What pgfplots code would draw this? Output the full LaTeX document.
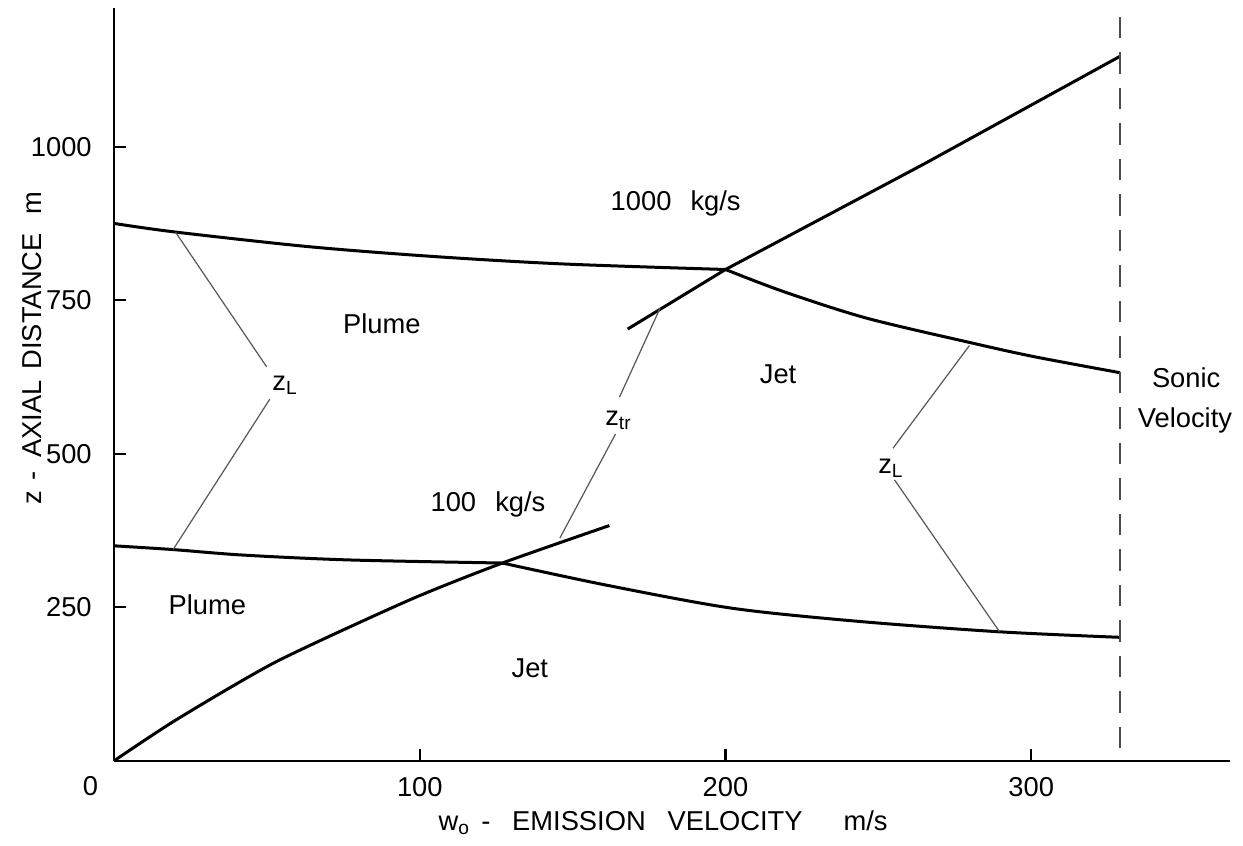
\documentclass[border=0pt]{standalone}
\usepackage{fontspec}
\setmainfont{Liberation Sans}
\usepackage{pgfplots}
\pgfplotsset{compat=1.18}
\begin{document}
\begin{tikzpicture}
\begin{axis}[
  at={(0,0)}, anchor=south west,
  scale only axis,
  width=408.6pt, height=275.7pt,
  xmin=0, xmax=365, ymin=0, ymax=1226,
  axis lines*=left,
  axis line style={line width=0.9pt},
  tick align=inside,
  major tick length=4.2pt,
  tick style={line width=0.8pt, black},
  xtick={100,200,300},
  ytick={250,500,750,1000},
  /pgf/number format/assume math mode=true,
  /pgf/number format/1000 sep={},
  ticklabel style={font=\fontsize{10}{12}\selectfont},
  xticklabel style={yshift=-2.5pt},
  yticklabel style={xshift=-4.7pt},
  xlabel={w\textsubscript{o}\hspace{4pt}-\hspace{8pt}EMISSION\hspace{8pt}VELOCITY\hspace{15pt}m/s},
  xlabel style={at={(axis description cs:0.492,-0.0823)}, anchor=center, font=\fontsize{10}{12}\selectfont},
  ylabel={z\hspace{4pt}-\hspace{5pt}AXIAL\hspace{4pt}DISTANCE\hspace{7pt}m},
  ylabel style={at={(axis description cs:-0.0734,0.548)}, anchor=center, font=\fontsize{10}{12}\selectfont},
  clip=false,
  every node/.append style={font=\fontsize{10}{12}\selectfont},
]
% 1000 kg/s plume-jet boundary
\addplot[black, line width=1.1pt, smooth, tension=0.5] coordinates {(0,875) (20,861) (64,837) (105,821) (147,809) (200,800)};
\addplot[black, line width=1.1pt, smooth, tension=0.5] coordinates {(200,800) (219,764) (246,721) (280,681) (301,658) (329,632)};
% 1000 kg/s transition line
\addplot[black, line width=1.1pt] coordinates {(168,703) (200,800) (265,972) (329,1147)};
% 100 kg/s plume-jet boundary
\addplot[black, line width=1.1pt, smooth, tension=0.5] coordinates {(0,350) (19,344) (42,335) (77,327) (127,322)};
\addplot[black, line width=1.1pt, smooth, tension=0.5] coordinates {(127,322) (161,286) (202,248.5) (243.5,227) (289.6,210) (329,201)};
% 100 kg/s transition line
\addplot[black, line width=1.1pt, smooth, tension=0.4] coordinates {(0,0) (20.4,67) (53.1,161.5) (96.7,262) (127,322) (162,383)};
% thin lines z_L, z_tr
\addplot[black!65, line width=0.45pt] coordinates {(20.1,860.7) (49.9,641.4)};
\addplot[black!65, line width=0.45pt] coordinates {(50.9,588.7) (19.3,344)};
\addplot[black!65, line width=0.45pt] coordinates {(178.6,737) (165.3,592)};
\addplot[black!65, line width=0.45pt] coordinates {(164,532) (145.8,362.5)};
\addplot[black!65, line width=0.45pt] coordinates {(279.8,676.2) (254.8,509)};
\addplot[black!65, line width=0.45pt] coordinates {(255.3,457.4) (289.6,210.4)};
% sonic velocity
\addplot[black!70, line width=0.5pt, dash pattern=on 8pt off 5pt] coordinates {(329,20) (329,1222)};
% labels
\node at (axis cs:0,0) [xshift=-8.7pt, yshift=-9.4pt] {0};
\node at (axis cs:183.7,907) {1000\hspace{7pt}kg/s};
\node at (axis cs:87.6,711.6) {Plume};
\node[anchor=west, inner sep=0pt] at (axis cs:51.6,612) {z\textsubscript{L}};
\node[anchor=west, inner sep=0pt] at (axis cs:249.8,477) {z\textsubscript{L}};
\node[anchor=west, inner sep=0pt] at (axis cs:160.5,555) {z\textsubscript{tr}};
\node at (axis cs:217.2,630) {Jet};
\node at (axis cs:122.3,418) {100\hspace{7pt}kg/s};
\node at (axis cs:30.5,254) {Plume};
\node at (axis cs:136,150.5) {Jet};
\node at (axis cs:350.7,623) {Sonic};
\node at (axis cs:350.3,555) {Velocity};
\end{axis}
\pgfresetboundingbox
\path[use as bounding box] (-41.8pt,-31.2pt) rectangle (413.4pt,278.6pt);
\end{tikzpicture}
\end{document}
